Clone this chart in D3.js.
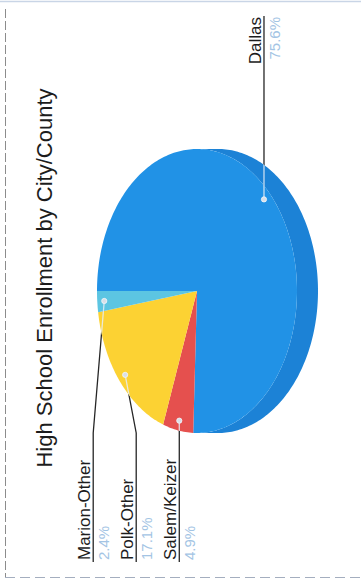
<!DOCTYPE html>
<html>
<head>
<meta charset="utf-8">
<script src="https://cdn.jsdelivr.net/npm/d3@7"></script>
<style>
  html, body { margin: 0; padding: 0; background: #fff; }
  svg { display: block; font-family: "Liberation Sans", Arial, sans-serif; }
</style>
</head>
<body>
<svg id="chart" width="361" height="582"></svg>
<script>
// Enrollment share by city / county
const categories = ["Dallas", "Salem/Keizer", "Polk-Other", "Marion-Other"];
const values = [75.6, 4.9, 17.1, 2.4];
const valueLabels = ["75.6%", "4.9%", "17.1%", "2.4%"];
const chartTitle = "High School Enrollment by City/County";
const faceColors = ["#2192e6", "#e5504e", "#fcd233", "#5cc5e2"];
const sideColors = ["#1c82d6", "#c44442", "#d9b22a", "#4aa8c6"];

const W = 361, H = 582;
const svg = d3.select("#chart");

// page frame
svg.append("line").attr("x1", 0).attr("x2", W).attr("y1", 1.5).attr("y2", 1.5)
  .attr("stroke", "#c9d5e6").attr("stroke-width", 1.5);
svg.append("line").attr("x1", 5.5).attr("x2", 5.5).attr("y1", 9).attr("y2", 577)
  .attr("stroke", "#8c8c8c").attr("stroke-dasharray", "9,3");
svg.append("line").attr("x1", 5).attr("x2", W).attr("y1", 577.5).attr("y2", 577.5)
  .attr("stroke", "#a4aebf").attr("stroke-dasharray", "10,5");

// the chart is laid out landscape (582 x 361) and turned a quarter turn
const g = svg.append("g").attr("transform", `translate(0,${H}) rotate(-90)`);

const cx = 291, cy = 197, rx = 142, ry = 100, depth = 21;
const dotK = 0.93;

const data = categories.map((c, i) => ({ name: c, value: values[i], label: valueLabels[i], i }));
const arcs = d3.pie().sort(null).value(d => d.value)(data);

// point on the tilted (elliptical) pie at angle a
const pt = (a, k = 1, dv = 0) => [cx + rx * k * Math.sin(a), cy - ry * k * Math.cos(a) + dv];
const sample = (a0, a1, k, dv) => {
  const n = Math.max(2, Math.ceil(Math.abs(a1 - a0) / 0.02));
  return d3.range(n + 1).map(j => pt(a0 + (a1 - a0) * j / n, k, dv));
};
const line = d3.line();

const facePath = a => line([[cx, cy]].concat(sample(a.startAngle, a.endAngle, 1, 0))) + "Z";
const sidePath = a => {
  const s = Math.max(a.startAngle, Math.PI / 2), e = Math.min(a.endAngle, 3 * Math.PI / 2);
  if (s >= e) return null;
  return line(sample(s, e, 1, 0).concat(sample(e, s, 1, depth))) + "Z";
};

// clip region of the whole pie body (for leader lines running over it)
const clip = g.append("defs").append("clipPath").attr("id", "pieClip");
arcs.forEach(a => {
  clip.append("path").attr("d", facePath(a));
  const sp = sidePath(a);
  if (sp) clip.append("path").attr("d", sp);
});

// label positions
const labels = arcs.map(a => {
  const mid = (a.startAngle + a.endAngle) / 2;
  const dot = pt(mid, dotK);
  return { a, mid, dot, right: Math.sin(mid) >= 0, target: dot[1], v: dot[1] };
});

const gap = 43;
function spread(items) {
  items.sort((p, q) => p.target - q.target);
  let clusters = items.map(it => ({ items: [it] }));
  const layout = c => {
    const m = d3.mean(c.items, it => it.target);
    const start = m - gap * (c.items.length - 1) / 2;
    c.items.forEach((it, k) => it.v = start + gap * k);
  };
  clusters.forEach(layout);
  let moved = true;
  while (moved) {
    moved = false;
    for (let k = 0; k < clusters.length - 1; k++) {
      const A = clusters[k], B = clusters[k + 1];
      if (B.items[0].v - A.items[A.items.length - 1].v < gap) {
        const M = { items: A.items.concat(B.items) };
        layout(M);
        clusters.splice(k, 2, M);
        moved = true;
        break;
      }
    }
  }
}
spread(labels.filter(l => l.right));
spread(labels.filter(l => !l.right));

const leftEnd = 20, rightEnd = 566;
const leaderPts = l => {
  const elbowU = l.right ? cx + rx : cx - rx;
  const endU = l.right ? rightEnd : leftEnd;
  return [l.dot, [elbowU, l.v], [endU, l.v]];
};

// dark leader lines (covered by the pie where they cross it)
g.append("g").selectAll("path").data(labels).join("path")
  .attr("d", l => line(leaderPts(l)))
  .attr("fill", "none").attr("stroke", "#262626").attr("stroke-width", 1.3);

// pie side wall
g.append("g").selectAll("path").data(arcs.filter(a => sidePath(a))).join("path")
  .attr("d", sidePath)
  .attr("fill", a => sideColors[a.data.i]);

// pie face
g.append("g").selectAll("path").data(arcs).join("path")
  .attr("d", facePath)
  .attr("fill", a => faceColors[a.data.i]);

// light part of the leaders over the pie
g.append("g").attr("clip-path", "url(#pieClip)").selectAll("path").data(labels).join("path")
  .attr("d", l => line(leaderPts(l)))
  .attr("fill", "none").attr("stroke", "#e6edf6").attr("stroke-width", 1.3).attr("opacity", 0.85);

// anchor dots
g.append("g").selectAll("circle").data(labels).join("circle")
  .attr("cx", l => l.dot[0]).attr("cy", l => l.dot[1]).attr("r", 2.6)
  .attr("fill", "#d9dfe8").attr("stroke", "#f3f6fa").attr("stroke-width", 0.8);

// label texts
const lg = g.append("g").selectAll("g").data(labels).join("g");
lg.append("text")
  .attr("x", l => l.right ? rightEnd - 1 : leftEnd + 2)
  .attr("y", l => l.v - 3)
  .attr("text-anchor", l => l.right ? "end" : "start")
  .attr("font-size", 17).attr("fill", "#1c1c1c")
  .text(l => l.a.data.name);
lg.append("text")
  .attr("x", l => l.right ? rightEnd - 1 : leftEnd + 2)
  .attr("y", l => l.v + 16)
  .attr("text-anchor", l => l.right ? "end" : "start")
  .attr("font-size", 15).attr("fill", "#a3c4e4")
  .text(l => l.a.data.label);

// title
g.append("text")
  .attr("x", 304).attr("y", 52)
  .attr("text-anchor", "middle")
  .attr("font-size", 22).attr("fill", "#1c1c1c")
  .text(chartTitle);
</script>
</body>
</html>
